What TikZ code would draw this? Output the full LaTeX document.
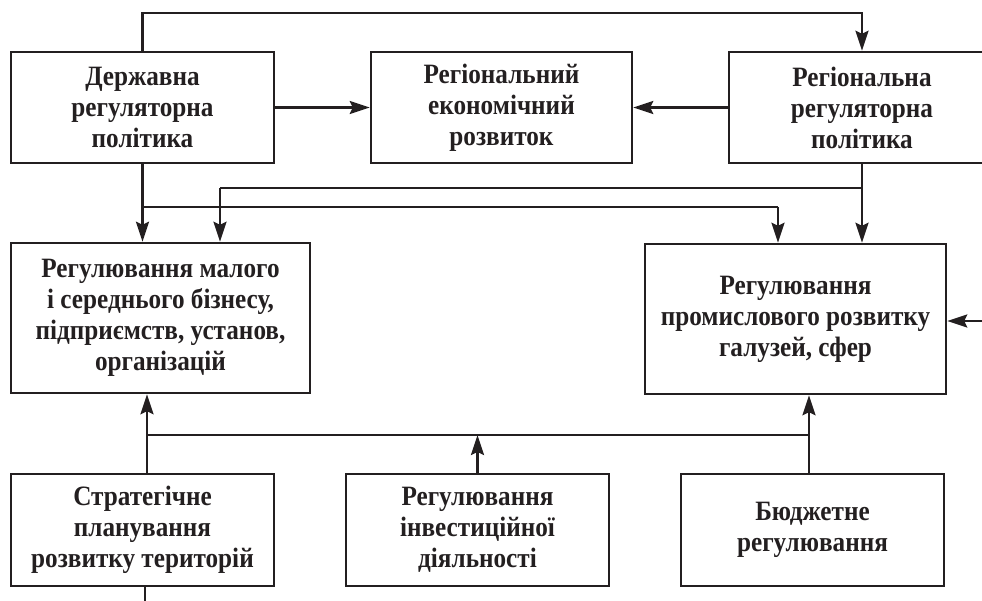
\documentclass[tikz,border=0pt]{standalone}
\usepackage{fontspec}
\setmainfont{Liberation Serif}[FakeStretch=0.9]
\usetikzlibrary{arrows.meta,calc}
\definecolor{ink}{HTML}{231F20}
\begin{document}
\begin{tikzpicture}[x=1pt,y=-1pt,
  box/.style={draw=ink,line width=2.5pt,rectangle,align=center,text=ink,
     font=\fontsize{28}{31}\selectfont\bfseries,inner sep=0pt},
  arr/.style={draw=ink,line width=2.3pt,-{Stealth[length=20pt,width=13pt,inset=3pt]}},
  ln/.style={draw=ink,line width=2.3pt}]
\useasboundingbox (0,0) rectangle (982,601);
\node[box,minimum width=263,minimum height=111] (A) at (142.5,107.5) {Державна\\регуляторна\\політика};
\node[box,minimum width=261,minimum height=111] (B) at (501.5,107.5) {Регіональний\\економічний\\розвиток};
\node[box,minimum width=266,minimum height=111] (C) at (862,107.5) {Регіональна\\регуляторна\\політика};
\node[box,minimum width=299,minimum height=150] (D) at (160.5,318) {Регулювання малого\\і середнього бізнесу,\\підприємств, установ,\\організацій};
\node[box,minimum width=301,minimum height=150] (E) at (795.5,319) {Регулювання\\промислового розвитку\\галузей, сфер};
\node[box,minimum width=263,minimum height=112] (F) at (142.5,530) {Стратегічне\\планування\\розвитку територій};
\node[box,minimum width=263,minimum height=112] (G) at (477.5,530) {Регулювання\\інвестиційної\\діяльності};
\node[box,minimum width=263,minimum height=112] (H) at (812.5,530) {Бюджетне\\регулювання};
% named helper coordinates
\coordinate (topL) at (0,13);
\coordinate (busA) at (0,207);
\coordinate (busC) at (0,188);
\coordinate (dn1) at (220,0);
\coordinate (dn2) at (778,0);
\coordinate (busB) at (147,435);
\coordinate (busR) at (809,435);
\coordinate (inR) at (990,321);
\coordinate (outF) at (145,610);
% top loop
\draw[arr] (A.north) -- (A.north |- topL) -| (C.north);
% horizontal into B
\draw[arr] (A.east) -- (B.west);
\draw[arr] (C.west) -- (B.east);
% down from A
\draw[arr] (A.south) -- (A.south |- D.north);
\draw[ln] (A.south |- busA) -- (dn2 |- busA);
\draw[arr] (dn2 |- busA) -- (dn2 |- E.north);
% down from C
\draw[arr] (C.south) -- (C.south |- E.north);
\draw[ln] (C.south |- busC) -- (dn1 |- busC);
\draw[arr] (dn1 |- busC) -- (dn1 |- D.north);
% right input to E
\draw[arr] (inR) -- (inR -| E.east);
% bottom bus
\draw[ln] (busB |- F.north) -- (busB) -- (busR) -- (busR |- H.north);
\draw[arr] (busB) -- (busB |- D.south);
\draw[arr] (busR) -- (busR |- E.south);
\draw[arr] (G.north) -- (G.north |- busB);
% output from F
\draw[ln] (outF |- F.south) -- (outF);
\end{tikzpicture}
\end{document}
